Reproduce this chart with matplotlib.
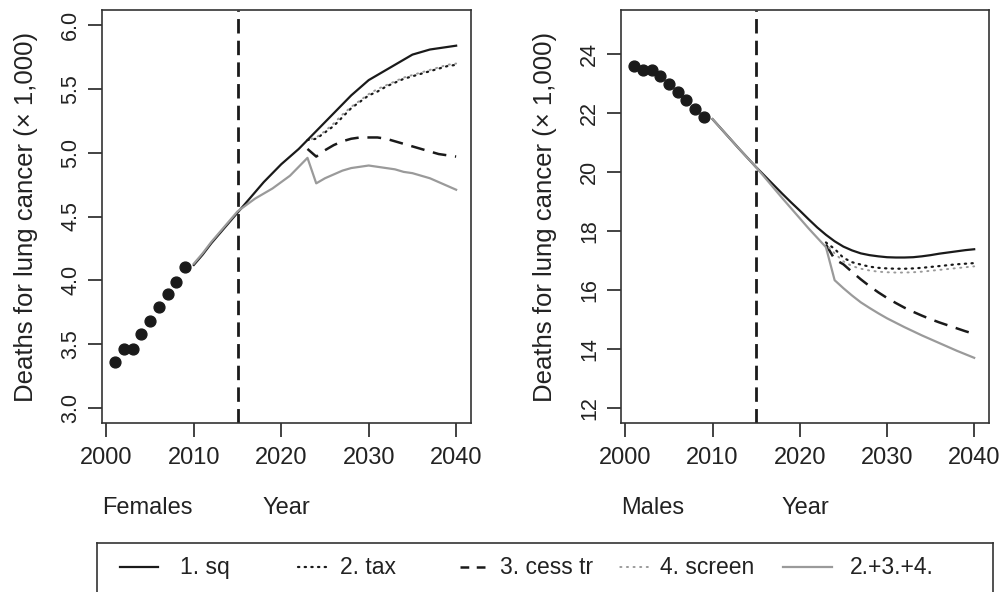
import numpy as np
import matplotlib
matplotlib.use("Agg")
import matplotlib.pyplot as plt
from matplotlib.lines import Line2D

plt.rcParams['font.family'] = ['Liberation Sans', 'DejaVu Sans']

# observed deaths (x 1,000)
obs_years = list(range(2001, 2010))
fem_obs = [3.36, 3.46, 3.46, 3.58, 3.68, 3.79, 3.89, 3.99, 4.10]
male_obs = [23.60, 23.45, 23.47, 23.25, 23.00, 22.73, 22.45, 22.15, 21.88]

# projections
proj_years = list(range(2010, 2041))
int_years = list(range(2023, 2041))

fem_sq = [4.12, 4.20, 4.29, 4.37, 4.45, 4.53, 4.61, 4.69, 4.77, 4.84, 4.91,
          4.97, 5.03, 5.10, 5.17, 5.24, 5.31, 5.38, 5.45, 5.51, 5.57,
          5.61, 5.65, 5.69, 5.73, 5.77, 5.79, 5.81, 5.82, 5.83, 5.84]
fem_comb = [4.13, 4.21, 4.30, 4.38, 4.46, 4.54, 4.59, 4.64, 4.68, 4.72, 4.77,
            4.82, 4.89, 4.96, 4.76, 4.80, 4.83, 4.86, 4.88, 4.89, 4.90,
            4.89, 4.88, 4.87, 4.85, 4.84, 4.82, 4.80, 4.77, 4.74, 4.71]
fem_tax = [5.10, 5.11, 5.16, 5.21, 5.28, 5.35, 5.40, 5.45, 5.48, 5.52,
           5.55, 5.58, 5.60, 5.62, 5.64, 5.66, 5.68, 5.69]
fem_cess = [5.03, 4.97, 5.02, 5.06, 5.09, 5.11, 5.12, 5.12, 5.12, 5.11,
            5.09, 5.07, 5.05, 5.03, 5.01, 4.99, 4.98, 4.97]
fem_screen = [5.10, 5.12, 5.17, 5.23, 5.30, 5.36, 5.41, 5.46, 5.50, 5.53,
              5.56, 5.59, 5.61, 5.63, 5.65, 5.67, 5.69, 5.70]

male_sq = [21.80, 21.47, 21.14, 20.81, 20.49, 20.17, 19.87, 19.57, 19.27, 18.98, 18.70,
           18.41, 18.13, 17.88, 17.66, 17.48, 17.35, 17.25, 17.19, 17.15, 17.12,
           17.11, 17.11, 17.12, 17.15, 17.19, 17.24, 17.28, 17.32, 17.36, 17.39]
male_comb = [21.80, 21.47, 21.14, 20.81, 20.49, 20.17, 19.82, 19.47, 19.12, 18.78, 18.44,
             18.10, 17.78, 17.46, 16.34, 16.07, 15.82, 15.59, 15.40, 15.22, 15.05,
             14.90, 14.75, 14.61, 14.47, 14.34, 14.21, 14.08, 13.95, 13.83, 13.71]
male_tax = [17.62, 17.40, 17.10, 16.95, 16.87, 16.80, 16.76, 16.74, 16.73, 16.73,
            16.74, 16.76, 16.79, 16.82, 16.85, 16.88, 16.90, 16.92]
male_cess = [17.55, 17.05, 16.88, 16.62, 16.37, 16.14, 15.93, 15.74, 15.57, 15.41,
             15.27, 15.14, 15.02, 14.91, 14.81, 14.71, 14.61, 14.52]
male_screen = [17.55, 17.25, 16.98, 16.82, 16.73, 16.67, 16.63, 16.61, 16.60, 16.60,
               16.61, 16.63, 16.66, 16.69, 16.72, 16.75, 16.78, 16.81]

x_ticks = [2000, 2010, 2020, 2030, 2040]
fem_yticks = [3.0, 3.5, 4.0, 4.5, 5.0, 5.5, 6.0]
male_yticks = [12, 14, 16, 18, 20, 22, 24]
labels = ['1. sq', '2. tax', '3. cess tr', '4. screen', '2.+3.+4.']

GRAY = '#9a9a9a'
BLACK = '#1a1a1a'
TXT = '#222222'
FS_X = 17
FS_Y = 15.5
FS_YLAB = 18.5

styles = {
    'sq': dict(color=BLACK, lw=1.6, ls='-'),
    'tax': dict(color=BLACK, lw=1.6, ls=(0, (0.6, 2.4)), dash_capstyle='round'),
    'cess': dict(color=BLACK, lw=1.8, ls=(0, (5.5, 3.5))),
    'screen': dict(color=GRAY, lw=1.4, ls=(1.2, (0.6, 2.8)), dash_capstyle='round'),
    'comb': dict(color=GRAY, lw=1.6, ls='-'),
}

fig = plt.figure(figsize=(10.02, 5.92), dpi=100)
W, H = 1002, 592


def panel(rect, obs, sq, tax, cess, screen, comb, ylim, yticks, ytl, sex):
    ax = fig.add_axes([rect[0] / W, 1 - rect[3] / H, (rect[2] - rect[0]) / W,
                       (rect[3] - rect[1]) / H])
    ax.plot(proj_years, sq, **styles['sq'])
    ax.plot(int_years, tax, **styles['tax'])
    ax.plot(int_years, cess, **styles['cess'])
    ax.plot(int_years, screen, **styles['screen'])
    ax.plot(proj_years, comb, **styles['comb'])
    ax.plot(obs_years, obs, 'o', color=BLACK, ms=7.8, mec=BLACK)
    ax.axvline(2015, color=BLACK, lw=2.0, ls=(0, (5.2, 2.6)))
    ax.set_xlim(1999.5, 2041.7)
    ax.set_ylim(*ylim)
    ax.set_xticks(x_ticks)
    ax.set_yticks(yticks)
    ax.set_yticklabels(ytl, rotation=90, va='center')
    ax.tick_params(axis='both', direction='out', length=10, width=1.2,
                   colors=TXT)
    ax.tick_params(axis='x', pad=7, labelsize=FS_X)
    ax.tick_params(axis='y', pad=5, labelsize=FS_Y)
    for s in ax.spines.values():
        s.set_linewidth(1.2)
        s.set_color('#333333')
    ax.set_ylabel('Deaths for lung cancer (\u00d7 1,000)', fontsize=FS_YLAB,
                  labelpad=16, color=TXT)
    ax.set_xlabel('Year', fontsize=FS_X, color=TXT, va='center')
    ax.xaxis.set_label_coords(0.5, -0.205)
    ax.text(0.0, -0.205, sex, transform=ax.transAxes, fontsize=FS_X,
            ha='left', va='center', color=TXT)
    return ax


panel((102, 10, 471, 423), fem_obs, fem_sq, fem_tax, fem_cess, fem_screen, fem_comb,
      (2.88, 6.12), fem_yticks, ['%.1f' % v for v in fem_yticks], 'Females')
panel((621, 10, 989, 423), male_obs, male_sq, male_tax, male_cess, male_screen, male_comb,
      (11.5, 25.5), male_yticks, [str(v) for v in male_yticks], 'Males')

# legend box along the bottom
lax = fig.add_axes([97 / W, -0.02, (993 - 97) / W, (592 - 543) / H + 0.02])
lax.set_xlim(97, 993)
lax.set_ylim(0, 1)
lax.set_xticks([])
lax.set_yticks([])
for s in lax.spines.values():
    s.set_linewidth(1.2)
    s.set_color('#333333')
lax.spines['bottom'].set_visible(False)

handle_x = [(120, 158), (298, 330), (460, 492), (616, 650), (783, 832)]
text_x = [180, 340, 500, 660, 850]
keys = ['sq', 'tax', 'cess', 'screen', 'comb']
yl = 0.60
for (x0, x1), tx, key, lab in zip(handle_x, text_x, keys, labels):
    st = dict(styles[key])
    if key == 'cess':
        st['ls'] = (0, (3.5, 3.0))
    lax.add_line(Line2D([x0, x1], [yl, yl], **st))
    lax.text(tx, yl, lab, fontsize=16.5, va='center', ha='left', color=TXT)

fig.savefig('out.png', dpi=100)
